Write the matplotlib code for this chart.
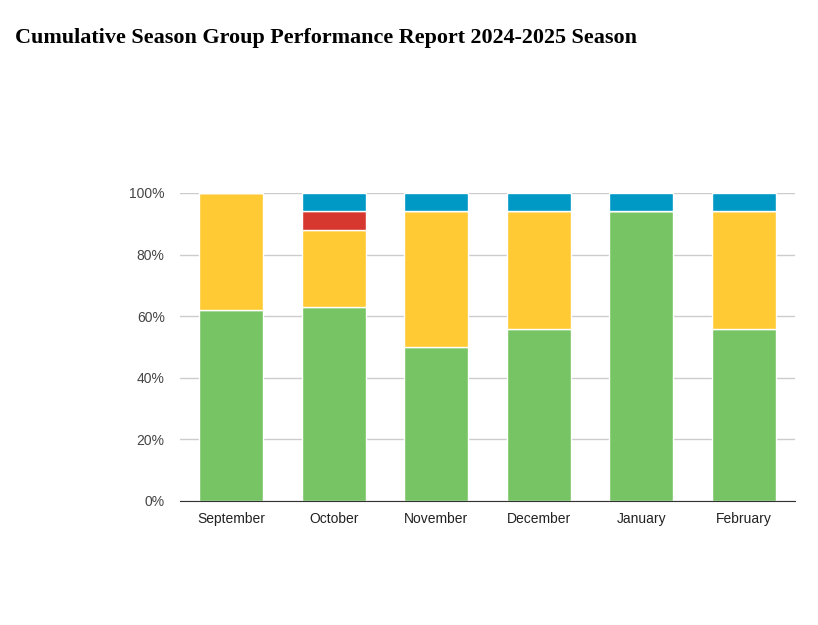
import numpy as np
import matplotlib.pyplot as plt

months = ['September', 'October', 'November', 'December', 'January', 'February']
# percent of group in each category per month
green = [62, 63, 50, 56, 94, 56]
yellow = [38, 25, 44, 38, 0, 38]
red = [0, 6, 0, 0, 0, 0]
blue = [0, 6, 6, 6, 6, 6]

series = [green, yellow, red, blue]
colors = ['#77c465', '#ffca33', '#d63830', '#0099c6']

fig = plt.figure(figsize=(8.18, 6.25), dpi=100)
ax = fig.add_axes([180 / 818, 1 - 501 / 625, 615 / 818, 308 / 625])

x = np.arange(len(months))
bottom = np.zeros(len(months))
for vals, c in zip(series, colors):
    vals = np.array(vals, dtype=float)
    ax.bar(x, vals, 0.62, bottom=bottom, color=c, edgecolor='white', linewidth=1, zorder=3)
    bottom += vals

ax.set_xlim(-0.5, 5.5)
ax.set_ylim(0, 100)
ax.set_yticks([0, 20, 40, 60, 80, 100])
ax.set_yticklabels(['0%', '20%', '40%', '60%', '80%', '100%'], fontfamily='Liberation Sans', fontsize=10, color='#444444')
ax.set_xticks(x)
ax.set_xticklabels(months, fontfamily='Liberation Sans', fontsize=10, color='#222222')
ax.grid(axis='y', color='#cccccc', linewidth=1, zorder=0)
ax.tick_params(axis='x', length=0, pad=8)
ax.tick_params(axis='y', length=0, pad=11)
for s in ['top', 'right', 'left']:
    ax.spines[s].set_visible(False)
ax.spines['bottom'].set_color('#333333')
ax.spines['bottom'].set_zorder(4)

title = fig.text(15 / 818, 1 - 38 / 625, 'Cumulative Season Group Performance Report 2024-2025 Season',
                 fontfamily='Liberation Serif', fontweight='bold', fontsize=14.5, va='center', ha='left')
# fit the title to the width of the original
fig.canvas.draw()
w = title.get_window_extent().width
title.set_fontsize(14.5 * 622 / w)

fig.savefig('out.png', dpi=100)
